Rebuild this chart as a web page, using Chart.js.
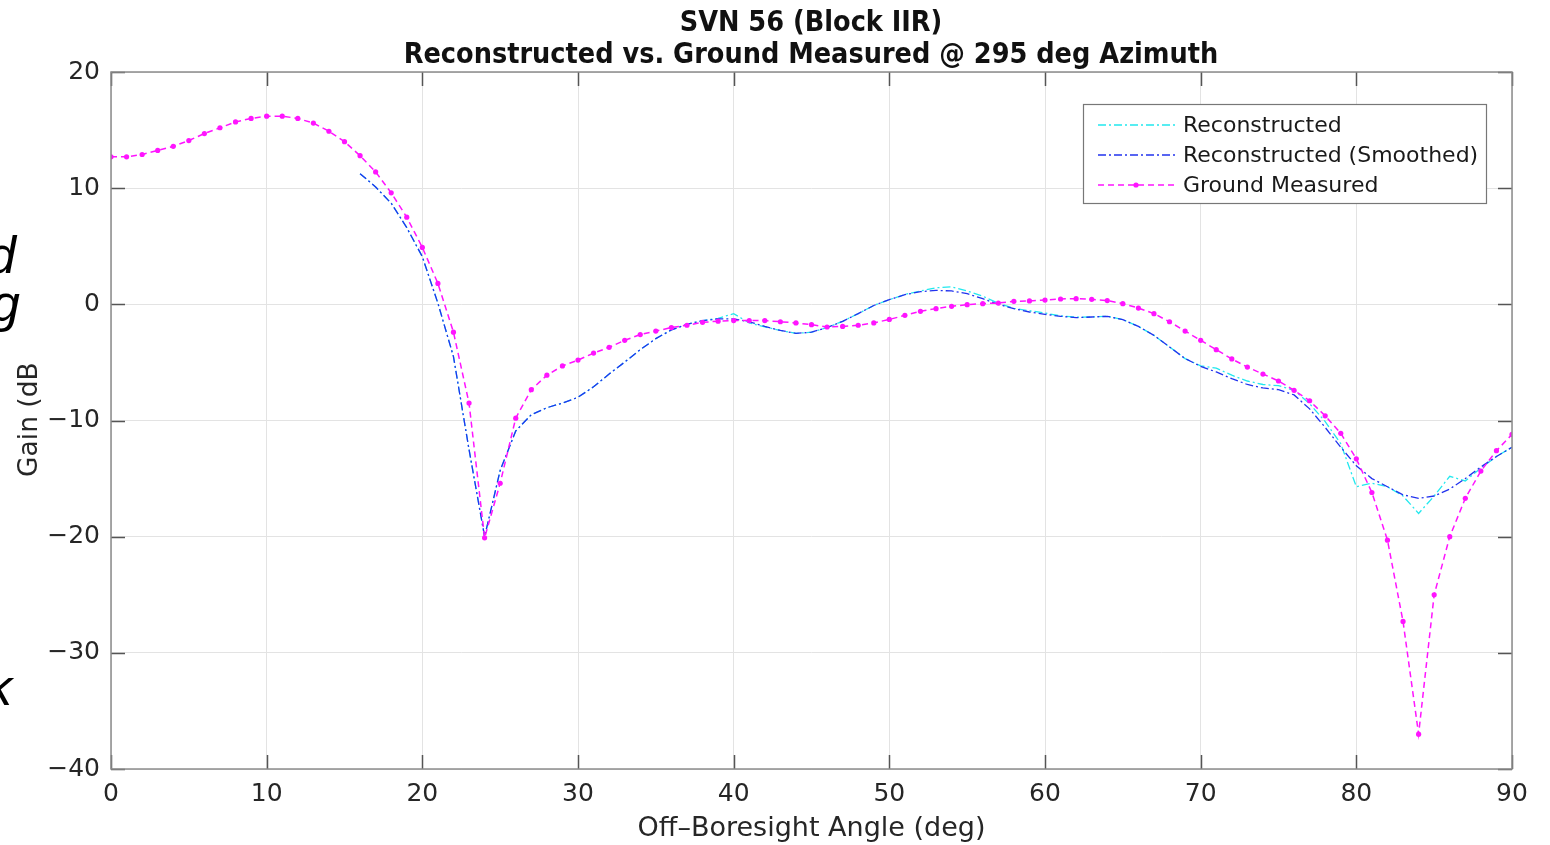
<!DOCTYPE html>
<html>
<head>
<meta charset="utf-8">
<title>SVN 56 (Block IIR)</title>
<script src="https://cdn.jsdelivr.net/npm/chart.js@4.4.1/dist/chart.umd.min.js"></script>
<style>
	html, body { margin: 0; padding: 0; background: #fff; }
	#wrap { width: 1550px; height: 845px; }
</style>
</head>
<body>
<div id="wrap"><canvas id="gain-chart" width="1550" height="845"></canvas></div>
<script>
// 地上測定の角度 (deg)
const groundAngles = [
	0, 1, 2, 3, 4, 5, 6, 7, 8, 9, 10, 11, 12, 13, 14, 15, 16, 17, 18, 19,
	20, 21, 22, 23, 24, 25, 26, 27, 28, 29, 30, 31, 32, 33, 34, 35, 36, 37, 38, 39,
	40, 41, 42, 43, 44, 45, 46, 47, 48, 49, 50, 51, 52, 53, 54, 55, 56, 57, 58, 59,
	60, 61, 62, 63, 64, 65, 66, 67, 68, 69, 70, 71, 72, 73, 74, 75, 76, 77, 78, 79,
	80, 81, 82, 83, 84, 85, 86, 87, 88, 89, 90,
];
const groundGain = [
	12.7, 12.7, 12.9, 13.25, 13.6, 14.1, 14.7, 15.2, 15.7, 16.0, 16.2, 16.2, 16.0, 15.6, 14.9, 14.0, 12.8, 11.4, 9.6, 7.5,
	4.9, 1.8, -2.4, -8.5, -20.1, -15.4, -9.8, -7.35, -6.1, -5.3, -4.8, -4.2, -3.7, -3.1, -2.6, -2.3, -2.0, -1.8, -1.55, -1.45,
	-1.4, -1.4, -1.4, -1.5, -1.6, -1.75, -1.95, -1.9, -1.8, -1.6, -1.3, -0.95, -0.6, -0.37, -0.17, -0.03, 0.06, 0.11, 0.26, 0.29,
	0.37, 0.46, 0.49, 0.43, 0.32, 0.06, -0.32, -0.8, -1.5, -2.3, -3.1, -3.9, -4.7, -5.4, -6.0, -6.6, -7.4, -8.3, -9.6, -11.1,
	-13.3, -16.2, -20.3, -27.3, -37.0, -25.0, -20.0, -16.7, -14.35, -12.6, -11.2,
];

// 再構成の角度 (deg)
const reconAngles = [
	16, 17, 18, 19, 20, 21, 22, 23, 24, 25, 26, 27, 28, 29, 30, 31, 32, 33, 34, 35,
	36, 37, 38, 39, 40, 41, 42, 43, 44, 45, 46, 47, 48, 49, 50, 51, 52, 53, 54, 55,
	56, 57, 58, 59, 60, 61, 62, 63, 64, 65, 66, 67, 68, 69, 70, 71, 72, 73, 74, 75,
	76, 77, 78, 79, 80, 81, 82, 83, 84, 85, 86, 87, 88, 89, 90,
];
const reconGain = [
	11.25, 10.1, 8.7, 6.6, 4.1, 0.1, -4.5, -12.5, -20.0, -14.3, -10.9, -9.5, -8.9, -8.5, -8.0, -7.1, -6.0, -4.97, -3.9, -2.95,
	-2.2, -1.72, -1.4, -1.2, -0.8, -1.6, -1.95, -2.25, -2.5, -2.4, -2.0, -1.46, -0.8, -0.1, 0.4, 0.85, 1.15, 1.43, 1.5, 1.15,
	0.7, 0.1, -0.35, -0.55, -0.75, -1.0, -1.1, -1.09, -1.03, -1.32, -1.9, -2.67, -3.67, -4.67, -5.3, -5.5, -6.1, -6.6, -6.9, -7.0,
	-7.4, -8.55, -10.1, -12.0, -15.7, -15.4, -15.7, -16.5, -18.0, -16.5, -14.8, -15.2, -14.1, -13.1, -12.3,
];
const smoothGain = [
	11.25, 10.1, 8.7, 6.6, 4.1, 0.1, -4.5, -12.5, -20.0, -14.3, -10.9, -9.5, -8.9, -8.5, -8.0, -7.1, -6.0, -4.97, -3.9, -2.95,
	-2.2, -1.72, -1.4, -1.26, -1.25, -1.5, -1.9, -2.25, -2.5, -2.4, -2.0, -1.46, -0.8, -0.1, 0.4, 0.83, 1.09, 1.2, 1.15, 0.92,
	0.49, 0.0, -0.37, -0.66, -0.86, -1.03, -1.15, -1.09, -1.03, -1.32, -1.9, -2.67, -3.67, -4.67, -5.34, -5.82, -6.4, -6.9, -7.2, -7.35,
	-7.8, -9.0, -10.6, -12.3, -13.9, -15.0, -15.7, -16.4, -16.7, -16.5, -15.9, -15.0, -14.0, -13.1, -12.3,
];

const xTicks = [0, 10, 20, 30, 40, 50, 60, 70, 80, 90];
const yTicks = [-40, -30, -20, -10, 0, 10, 20];

const titleLines = ["SVN 56 (Block IIR)", "Reconstructed vs. Ground Measured @ 295 deg Azimuth"];
const seriesLabels = ["Reconstructed", "Reconstructed (Smoothed)", "Ground Measured"];

const COLOR_CYAN = "#22e8ee";
const COLOR_BLUE = "#2233ee";
const COLOR_MAGENTA = "#ff14ff";
const DASH_DOT = [8, 3, 2, 3];
const DASH = [6, 4];
const FONT = "'DejaVu Sans', 'Noto Sans', sans-serif";

const toPoints = (xs, ys) => xs.map((x, i) => ({ x: x, y: ys[i] }));
const minusLabel = (v) => (v < 0 ? "\u2212" + Math.abs(v) : String(v));

// 枠線・内向きの目盛り・タイトル・凡例を描くプラグイン
const decorPlugin = {
	id: "decor",
	afterDatasetsDraw(chart) {
		const { ctx, chartArea: a, scales } = chart;
		ctx.save();
		// 内向きの目盛り
		ctx.strokeStyle = "#555";
		ctx.lineWidth = 1.5;
		const tl = 14;
		xTicks.forEach((t) => {
			const x = Math.round(scales.x.getPixelForValue(t)) + 0.5;
			ctx.beginPath();
			ctx.moveTo(x, a.top); ctx.lineTo(x, a.top + tl);
			ctx.moveTo(x, a.bottom); ctx.lineTo(x, a.bottom - tl);
			ctx.stroke();
		});
		yTicks.forEach((t) => {
			const y = Math.round(scales.y.getPixelForValue(t)) + 0.5;
			ctx.beginPath();
			ctx.moveTo(a.left, y); ctx.lineTo(a.left + tl, y);
			ctx.moveTo(a.right, y); ctx.lineTo(a.right - tl, y);
			ctx.stroke();
		});
		// 枠
		ctx.strokeStyle = "#8c8c8c";
		ctx.lineWidth = 1.5;
		ctx.strokeRect(a.left, a.top, a.right - a.left, a.bottom - a.top);

		// 凡例
		const lx = 1083, ly = 104, lw = 403, lh = 99;
		ctx.fillStyle = "#fff";
		ctx.fillRect(lx, ly, lw, lh);
		ctx.strokeStyle = "#777";
		ctx.lineWidth = 1.2;
		ctx.strokeRect(lx + 0.5, ly + 0.5, lw, lh);
		const rows = [
			{ color: COLOR_CYAN, dash: DASH_DOT, marker: false },
			{ color: COLOR_BLUE, dash: DASH_DOT, marker: false },
			{ color: COLOR_MAGENTA, dash: DASH, marker: true },
		];
		rows.forEach((r, i) => {
			const y = ly + 21 + i * 30;
			ctx.strokeStyle = r.color;
			ctx.lineWidth = 1.3;
			ctx.setLineDash(r.dash);
			ctx.beginPath();
			ctx.moveTo(1098, y); ctx.lineTo(1175, y);
			ctx.stroke();
			ctx.setLineDash([]);
			if (r.marker) {
				ctx.fillStyle = r.color;
				ctx.beginPath();
				ctx.arc(1136, y, 2.6, 0, Math.PI * 2);
				ctx.fill();
			}
			ctx.fillStyle = "#1a1a1a";
			ctx.font = "22px " + FONT;
			ctx.textAlign = "left";
			ctx.textBaseline = "middle";
			ctx.fillText(seriesLabels[i], 1183, y + 1);
		});

		// タイトル
		ctx.fillStyle = "#111";
		ctx.textAlign = "center";
		ctx.textBaseline = "alphabetic";
		ctx.font = "bold 28.5px 'Liberation Sans Narrow', 'DejaVu Sans Condensed', sans-serif";
		ctx.fillText(titleLines[0], 811, 31);
		ctx.fillText(titleLines[1], 811, 63);

		// 縦軸ラベル
		ctx.save();
		ctx.translate(30, 477);
		ctx.rotate(-Math.PI / 2);
		ctx.font = "26.5px " + FONT;
		ctx.fillStyle = "#262626";
		ctx.textAlign = "left";
		ctx.textBaseline = "middle";
		ctx.fillText("Gain (dB", 0, 0);
		ctx.restore();

		// 左端で切れたスライドの文字
		ctx.fillStyle = "#000";
		ctx.font = "italic 52px 'Liberation Sans', Arial, sans-serif";
		ctx.textAlign = "left";
		ctx.fillText("d", -13, 273);
		ctx.fillText("g", -9, 321);
		ctx.fillText("k", -14, 705);
		ctx.restore();
	},
};

const ctx = document.getElementById("gain-chart").getContext("2d");
new Chart(ctx, {
	type: "line",
	data: {
		datasets: [
			{
				label: seriesLabels[0],
				data: toPoints(reconAngles, reconGain),
				borderColor: COLOR_CYAN,
				borderWidth: 1.3,
				borderDash: DASH_DOT,
				pointRadius: 0,
				tension: 0,
				order: 3,
			},
			{
				label: seriesLabels[1],
				data: toPoints(reconAngles, smoothGain),
				borderColor: COLOR_BLUE,
				borderWidth: 1.3,
				borderDash: DASH_DOT,
				pointRadius: 0,
				tension: 0,
				order: 2,
			},
			{
				label: seriesLabels[2],
				data: toPoints(groundAngles, groundGain),
				borderColor: COLOR_MAGENTA,
				borderWidth: 1.5,
				borderDash: DASH,
				pointRadius: 2.6,
				pointBorderWidth: 0,
				pointBackgroundColor: COLOR_MAGENTA,
				tension: 0,
				order: 1,
			},
		],
	},
	options: {
		responsive: false,
		animation: false,
		layout: { padding: { left: 0, right: 38, top: 72, bottom: 0 } },
		plugins: {
			legend: { display: false },
			title: { display: false },
			tooltip: { enabled: false },
		},
		scales: {
			x: {
				type: "linear",
				min: 0,
				max: 90,
				afterFit: (s) => { s.height = 76; },
				afterBuildTicks: (s) => { s.ticks = xTicks.map((v) => ({ value: v })); },
				grid: { color: "#e3e3e3", lineWidth: 1, drawTicks: false },
				border: { display: false },
				ticks: {
					padding: 10,
					color: "#262626",
					font: { family: FONT, size: 25 },
					maxRotation: 0,
					callback: (v) => minusLabel(v),
				},
				title: {
					display: true,
					text: "Off\u2013Boresight Angle (deg)",
					color: "#262626",
					font: { family: FONT, size: 27 },
					padding: { top: 0, bottom: 0 },
				},
			},
			y: {
				type: "linear",
				min: -40,
				max: 20,
				afterFit: (s) => { s.width = 111; },
				afterBuildTicks: (s) => { s.ticks = yTicks.map((v) => ({ value: v })); },
				grid: { color: "#e3e3e3", lineWidth: 1, drawTicks: false },
				border: { display: false },
				ticks: {
					padding: 11,
					color: "#262626",
					font: { family: FONT, size: 25 },
					callback: (v) => minusLabel(v),
				},
			},
		},
	},
	plugins: [decorPlugin],
});
</script>
</body>
</html>
